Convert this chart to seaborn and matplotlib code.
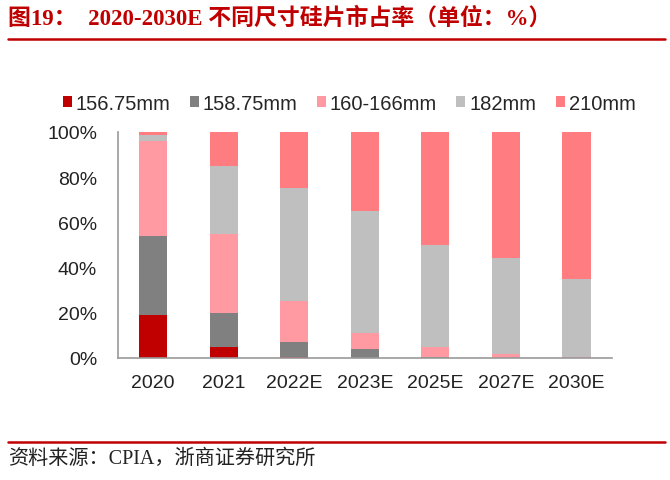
import matplotlib
matplotlib.use("Agg")
import matplotlib.pyplot as plt
from matplotlib.patches import Patch
import seaborn as sns
import pandas as pd
import numpy as np

years = ["2020", "2021", "2022E", "2023E", "2025E", "2027E", "2030E"]
sizes = ["156.75mm", "158.75mm", "160-166mm", "182mm", "210mm"]
s156 = [19, 5, 0.5, 0, 0, 0, 0]
s158 = [35, 15, 6.5, 4, 0.3, 0, 0]
s160 = [42, 35, 18, 7, 4.7, 1.5, 0.5]
s182 = [2.5, 30, 50, 54, 45, 42.5, 34.5]
s210 = [1.5, 15, 25, 35, 50, 56, 65]
colors = ["#C00000", "#808080", "#FF9AA2", "#BFBFBF", "#FF7C80"]

title = "图19：  2020-2030E 不同尺寸硅片市占率（单位：%）"
source = "资料来源：CPIA，浙商证券研究所"

sns.set_theme(style="white")
plt.rcParams["font.family"] = ["Liberation Sans", "Noto Sans CJK SC", "DejaVu Sans"]

df = pd.DataFrame({"year": years, sizes[0]: s156, sizes[1]: s158,
                   sizes[2]: s160, sizes[3]: s182, sizes[4]: s210})
cum = df[sizes].cumsum(axis=1)

fig = plt.figure(figsize=(6.7, 4.81), dpi=100)
ax = fig.add_axes([0.176, 0.254, 0.737, 0.4695])

# draw cumulative layers from top down so each covers the one beneath
for name, col in reversed(list(zip(sizes, colors))):
    sns.barplot(x=df["year"], y=cum[name], color=col, width=0.4,
                saturation=1, ax=ax, linewidth=0)

ax.set_ylim(0, 100)
ax.set_xlim(-0.5, len(years) - 0.5)
ax.set_yticks(np.arange(0, 101, 20))
ax.set_yticklabels([f"{v}%" for v in range(0, 101, 20)])
ax.set_xlabel("")
ax.set_ylabel("")
ax.set_xticks(np.arange(-0.5, len(years), 1), minor=True)
ax.tick_params(axis="x", which="major", length=0, labelsize=14, colors="#222222", pad=12)
ax.tick_params(axis="x", which="minor", length=5, width=1, color="#999999", direction="out")
ax.tick_params(axis="y", length=5, width=1, color="#999999", labelsize=14,
               labelcolor="#222222", direction="out", pad=10)
sns.despine(ax=ax, top=True, right=True)
for sp in ["left", "bottom"]:
    ax.spines[sp].set_color("#999999")
    ax.spines[sp].set_linewidth(1.2)

handles = [Patch(facecolor=c, edgecolor="none", label=n) for n, c in zip(sizes, colors)]
fig.legend(handles=handles, loc="center", bbox_to_anchor=(0.521, 0.783), ncol=5,
           frameon=False, fontsize=14.5, handlelength=0.45, handleheight=0.45,
           handletextpad=0.2, columnspacing=0.95)

fig.text(0.012, 0.962, title, fontsize=16.5, fontweight="bold", color="#C00000",
         va="center", ha="left", family=["Liberation Serif", "Noto Sans CJK SC"])
fig.add_artist(plt.Line2D([0.012, 0.992], [0.917, 0.917], color="#C00000", lw=1.8))
fig.add_artist(plt.Line2D([0.012, 0.992], [0.079, 0.079], color="#C00000", lw=1.8))
fig.text(0.012, 0.045, source, fontsize=14.5, color="#222222", va="center", ha="left",
         family=["Liberation Serif", "Noto Sans CJK SC"])

fig.savefig("out.png", dpi=100)
